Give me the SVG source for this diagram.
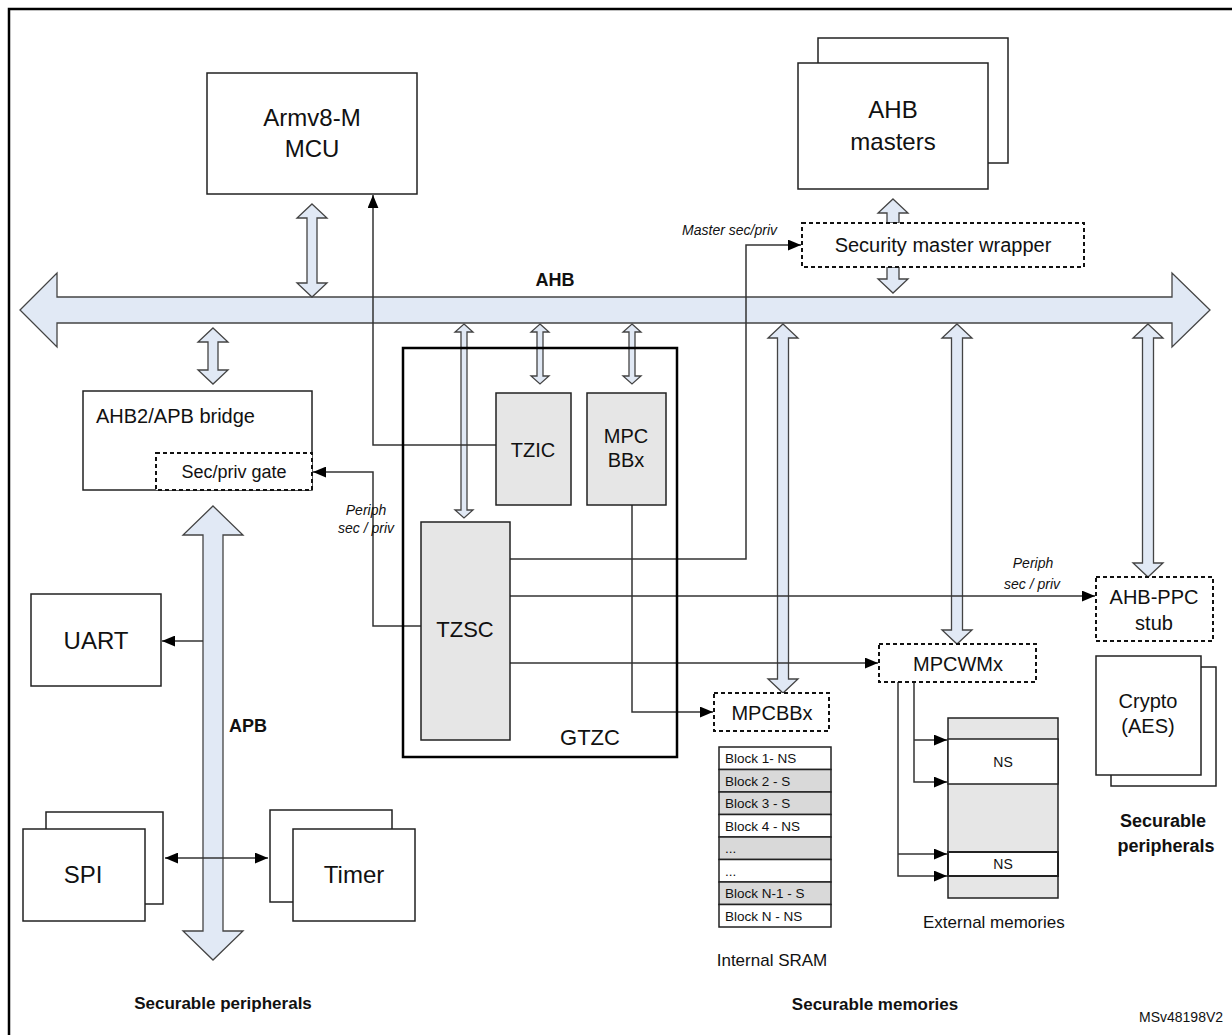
<svg xmlns="http://www.w3.org/2000/svg" width="1232" height="1035" viewBox="0 0 1232 1035">
<style>
text{font-family:"Liberation Sans",Arial,sans-serif;fill:#111}
.b{fill:#fff;stroke:#222;stroke-width:1.5}
.g{fill:#e6e6e6;stroke:#222;stroke-width:1.5}
.d{fill:#fff;stroke:#111;stroke-width:2;stroke-dasharray:4,3}
.bus{fill:#e1e9f5;stroke:#444;stroke-width:1.3}
.ln{fill:none;stroke:#333;stroke-width:1.5}
.c{text-anchor:middle}
.i{font-style:italic;font-size:14px}
.bd{font-weight:bold}
</style>
<defs>
<marker id="ah" viewBox="0 0 12 10" refX="12" refY="5" markerWidth="13" markerHeight="11" markerUnits="userSpaceOnUse" orient="auto"><path d="M0,0 L12,5 L0,10 z" fill="#000"/></marker>
<marker id="ahs" viewBox="0 0 12 10" refX="12" refY="5" markerWidth="13" markerHeight="11" markerUnits="userSpaceOnUse" orient="auto-start-reverse"><path d="M0,0 L12,5 L0,10 z" fill="#000"/></marker>
</defs>
<rect x="9" y="9" width="1240" height="1040" fill="#fff" stroke="#000" stroke-width="2.5"/>

<g id="buses">
<polygon class="bus" points="20,310 57,273 57,297 1172,297 1172,273 1210,310 1172,347 1172,323 57,323 57,347"/>
<text x="555" y="286" class="c bd" font-size="18">AHB</text>
<polygon class="bus" points="213,506 243,535 223,535 223,931 243,931 213,960 183,931 203,931 203,535 183,535"/>
<text x="229" y="732" class="bd" font-size="18">APB</text>
</g>

<g id="connectors">
<polygon class="bus" points="312,204 327,218 317,218 317,283 327,283 312,297 297,283 307,283 307,218 297,218"/>
<polygon class="bus" points="213,328 228,342 218,342 218,370 228,370 213,384 198,370 208,370 208,342 198,342"/>
<polygon class="bus" points="893,199 908,213 899,213 899,223 887,223 887,213 878,213"/>
<polygon class="bus" points="887,267 899,267 899,279 908,279 893,293 878,279 887,279"/>
<polygon class="bus" points="464,324 473,332 467,332 467,510 473,510 464,518 455,510 461,510 461,332 455,332"/>
<polygon class="bus" points="540,324 549,332 543,332 543,376 549,376 540,384 531,376 537,376 537,332 531,332"/>
<polygon class="bus" points="632,324 641,332 635,332 635,376 641,376 632,384 623,376 629,376 629,332 623,332"/>
<polygon class="bus" points="783,324 798,338 788.5,338 788.5,679 798,679 783,693 768,679 777.5,679 777.5,338 768,338"/>
<polygon class="bus" points="957,324 972,338 962.5,338 962.5,630 972,630 957,644 942,630 951.5,630 951.5,338 942,338"/>
<polygon class="bus" points="1148,324 1163,338 1153.5,338 1153.5,563 1163,563 1148,577 1133,563 1142.5,563 1142.5,338 1133,338"/>
<polyline class="ln" points="496,445 373,445 373,195" marker-end="url(#ah)"/>
<polyline class="ln" points="421,626 373,626 373,472 313,472" marker-end="url(#ah)"/>
<polyline class="ln" points="510,559 746,559 746,245 801,245" marker-end="url(#ah)"/>
<polyline class="ln" points="510,596 1095,596" marker-end="url(#ah)"/>
<polyline class="ln" points="510,663 878,663" marker-end="url(#ah)"/>
<polyline class="ln" points="632,505 632,712 713,712" marker-end="url(#ah)"/>
<polyline class="ln" points="914,682 914,782 947,782" marker-end="url(#ah)"/>
<polyline class="ln" points="914,740 947,740" marker-end="url(#ah)"/>
<polyline class="ln" points="898,682 898,876 947,876" marker-end="url(#ah)"/>
<polyline class="ln" points="898,854 947,854" marker-end="url(#ah)"/>
<polyline class="ln" points="203,641 162,641" marker-end="url(#ah)"/>
<line class="ln" x1="165" y1="858" x2="268" y2="858" marker-start="url(#ahs)" marker-end="url(#ah)"/>
<text x="777" y="235" class="i" text-anchor="end">Master sec/priv</text>
<text x="366" y="515" class="i c">Periph</text>
<text x="366" y="533" class="i c">sec / priv</text>
<text x="1033" y="568" class="i c">Periph</text>
<text x="1060" y="589" class="i" text-anchor="end">sec / priv</text>
</g>

<g id="mcu"><rect class="b" x="207" y="73" width="210" height="121"/>
<text x="312" y="126" class="c" font-size="24">Armv8-M</text><text x="312" y="157" class="c" font-size="24">MCU</text></g>

<g id="ahb-masters"><rect class="b" x="818" y="38" width="190" height="125"/><rect class="b" x="798" y="63" width="190" height="126"/>
<text x="893" y="118" class="c" font-size="24">AHB</text><text x="893" y="150" class="c" font-size="24">masters</text></g>

<g id="wrapper"><rect class="d" x="802" y="223" width="282" height="44"/>
<text x="943" y="252" class="c" font-size="20">Security master wrapper</text></g>

<g id="bridge"><rect class="b" x="83" y="391" width="229" height="99"/>
<text x="96" y="423" font-size="20">AHB2/APB bridge</text>
<rect class="d" x="156" y="453" width="156" height="37"/>
<text x="234" y="478" class="c" font-size="18">Sec/priv gate</text></g>

<g id="gtzc"><rect x="403" y="348" width="274" height="409" fill="none" stroke="#000" stroke-width="2.5"/>
<text x="590" y="745" class="c" font-size="22">GTZC</text></g>
<g id="tzic"><rect class="g" x="496" y="393" width="75" height="112"/><text x="533" y="457" class="c" font-size="20">TZIC</text></g>
<g id="mpcbb"><rect class="g" x="587" y="393" width="79" height="112"/><text x="626" y="443" class="c" font-size="20">MPC</text><text x="626" y="467" class="c" font-size="20">BBx</text></g>
<g id="tzsc"><rect class="g" x="421" y="522" width="89" height="218"/><text x="465" y="637" class="c" font-size="22">TZSC</text></g>

<g id="mpcbbx"><rect class="d" x="714" y="693" width="115" height="38"/><text x="772" y="720" class="c" font-size="20">MPCBBx</text></g>
<g id="mpcwmx"><rect class="d" x="879" y="644" width="157" height="38"/><text x="958" y="671" class="c" font-size="20">MPCWMx</text></g>
<g id="ahb-ppc"><rect class="d" x="1096" y="577" width="117" height="64"/><text x="1154" y="604" class="c" font-size="20">AHB-PPC</text><text x="1154" y="630" class="c" font-size="20">stub</text></g>
<g id="crypto"><rect class="b" x="1111" y="667" width="105" height="119"/><rect class="b" x="1096" y="656" width="105" height="119"/>
<text x="1148" y="708" class="c" font-size="20">Crypto</text><text x="1148" y="733" class="c" font-size="20">(AES)</text></g>
<text x="1163" y="827" class="c bd" font-size="18">Securable</text>
<text x="1166" y="852" class="c bd" font-size="18">peripherals</text>

<g id="sram" font-size="13.5">
<rect x="719" y="747" width="112" height="22.5" fill="#fff" stroke="#222" stroke-width="1.5"/>
<rect x="719" y="769.5" width="112" height="22.5" fill="#d9d9d9" stroke="#222" stroke-width="1.5"/>
<rect x="719" y="792" width="112" height="22.5" fill="#d9d9d9" stroke="#222" stroke-width="1.5"/>
<rect x="719" y="814.5" width="112" height="22.5" fill="#fff" stroke="#222" stroke-width="1.5"/>
<rect x="719" y="837" width="112" height="22.5" fill="#d9d9d9" stroke="#222" stroke-width="1.5"/>
<rect x="719" y="859.5" width="112" height="22.5" fill="#fff" stroke="#222" stroke-width="1.5"/>
<rect x="719" y="882" width="112" height="22.5" fill="#d9d9d9" stroke="#222" stroke-width="1.5"/>
<rect x="719" y="904.5" width="112" height="22.5" fill="#fff" stroke="#222" stroke-width="1.5"/>
<text x="725" y="763">Block 1- NS</text>
<text x="725" y="785.5">Block 2 - S</text>
<text x="725" y="808">Block 3 - S</text>
<text x="725" y="830.5">Block 4 - NS</text>
<text x="725" y="853">...</text>
<text x="725" y="875.5">...</text>
<text x="725" y="898">Block N-1 - S</text>
<text x="725" y="920.5">Block N - NS</text>
</g>
<text x="772" y="966" class="c" font-size="17">Internal SRAM</text>

<g id="ext-mem">
<rect x="948" y="718" width="110" height="180" fill="#e6e6e6" stroke="#222" stroke-width="1.5"/>
<rect x="948" y="739" width="110" height="45" fill="#fff" stroke="#222" stroke-width="1.5"/>
<rect x="948" y="852" width="110" height="24" fill="#fff" stroke="#222" stroke-width="2"/>
<text x="1003" y="767" class="c" font-size="14">NS</text>
<text x="1003" y="869" class="c" font-size="14">NS</text>
</g>
<text x="923" y="928" font-size="17">External memories</text>

<g id="uart"><rect class="b" x="31" y="594" width="130" height="92"/><text x="96" y="649" class="c" font-size="24">UART</text></g>
<g id="spi"><rect class="b" x="46" y="812" width="117" height="92"/><rect class="b" x="23" y="829" width="122" height="92"/><text x="83" y="883" class="c" font-size="24">SPI</text></g>
<g id="timer"><rect class="b" x="270" y="810" width="122" height="92"/><rect class="b" x="293" y="829" width="122" height="92"/><text x="354" y="883" class="c" font-size="24">Timer</text></g>
<text x="223" y="1009" class="c bd" font-size="17">Securable peripherals</text>
<text x="875" y="1010" class="c bd" font-size="17">Securable memories</text>
<text x="1139" y="1022" font-size="14">MSv48198V2</text>
</svg>
